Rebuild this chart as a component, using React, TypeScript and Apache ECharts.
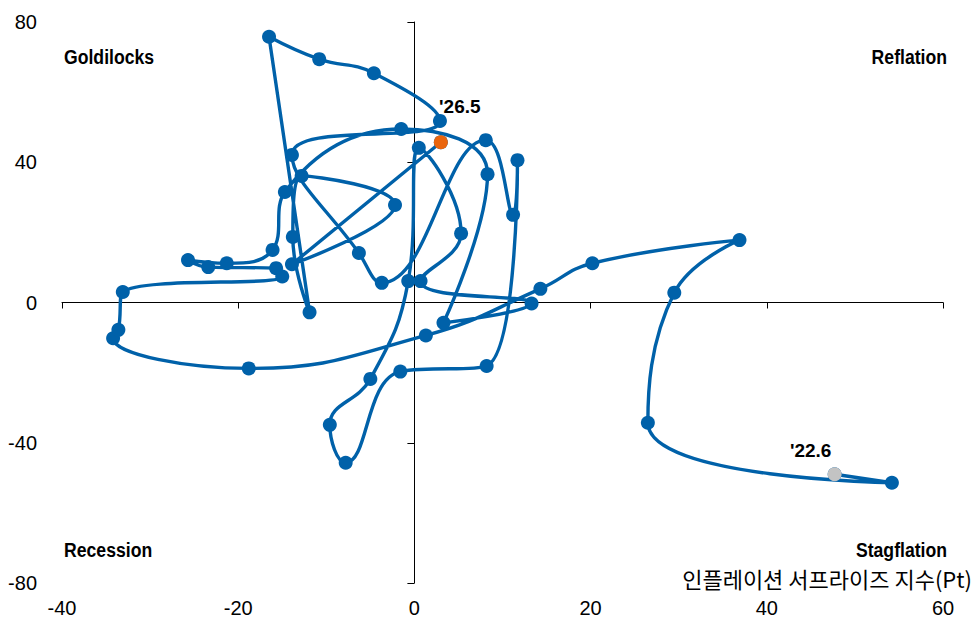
import React, { useEffect, useRef } from 'react';
import * as echarts from 'echarts';

// Inflation surprise index (x) and growth surprise index (y), monthly '22.6 -> '26.5
const inflation = [47.7, 54.2, 26.5, 29.5, 36.9, 20.2, 14.3, 1.3, -18.8, -34.2, -33.6, -33.1, -15.0, -15.7, -23.4, -25.7, -21.3, -16.1, -14.7, -1.5, 8.3, 3.3, 13.3, 0.7, 5.3, 0.5, -0.7, -5.0, -9.6, -7.8, -1.6, 8.2, 11.7, 11.2, 8.1, -3.7, -6.3, -13.9, 2.9, -4.6, -10.8, -16.5, -11.9, -13.8, -12.8, -2.2, -13.9, 3.0];
const growth = [-49.0, -51.4, -34.3, 2.8, 17.8, 11.2, 3.9, -9.4, -18.8, -10.2, -7.8, 3.0, 7.4, 9.8, 10.1, 12.1, 11.2, 15.0, 31.5, 49.5, 36.6, -5.8, -0.3, 6.1, 19.7, 44.1, 6.1, -21.8, -34.9, -45.7, -19.7, -18.1, 40.6, 25.0, 46.3, 5.6, 14.1, 42.1, 51.8, 65.4, 69.4, 75.8, -2.8, 18.7, 36.1, 27.8, 10.9, 45.7];
const startLabel = "'22.6";
const endLabel = "'26.5";
const xTicks = { min: -40, max: 60, interval: 20 };
const yTicks = { min: -80, max: 80, interval: 40 };
const quadrants = ['Goldilocks', 'Reflation', 'Recession', 'Stagflation'];
const xAxisTitle = '인플레이션 서프라이즈 지수(Pt)';

const BLUE = '#0061A9';
const NARROW = "'Liberation Sans Narrow', 'Arial Narrow', 'Liberation Sans', Arial, sans-serif";

export default function App() {
  const ref = useRef<HTMLDivElement>(null);
  useEffect(() => {
    if (!ref.current) return;
    const chart = echarts.init(ref.current, undefined, { renderer: 'svg' });
    const pts = inflation.map((x, i) => [x, growth[i]]);
    const last = pts.length - 1;
    const labelFont = { fontFamily: NARROW, fontSize: 20, color: '#000' };
    const quadStyle = (text: string, x: number, y: number, align: string) => ({
      type: 'text', x, y, scaleX: 0.84, silent: true,
      style: { text, fontFamily: NARROW, fontSize: 21, fontWeight: 'bold', fill: '#000', align, verticalAlign: 'middle' },
    });
    const pointLabel = (text: string, offset: number[]) => ({
      show: true, position: 'inside', offset, formatter: text,
      fontFamily: NARROW, fontSize: 19, fontWeight: 'bold', color: '#000',
      textBorderWidth: 0, textBorderColor: 'transparent',
    });
    chart.setOption({
      animation: false,
      backgroundColor: '#fff',
      grid: { left: 62, right: 32, top: 22, bottom: 38, containLabel: false },
      xAxis: [
        {
          type: 'value', ...xTicks, position: 'bottom',
          axisLine: { show: true, onZero: true, onZeroAxisIndex: 0, lineStyle: { color: '#000', width: 1 } },
          axisTick: { show: true, length: 6, lineStyle: { color: '#000' } },
          axisLabel: { show: false }, splitLine: { show: false },
        },
        {
          type: 'value', ...xTicks, position: 'bottom',
          axisLine: { show: false, onZero: false }, axisTick: { show: false },
          axisLabel: { show: true, margin: 15, ...labelFont }, splitLine: { show: false },
        },
      ],
      yAxis: [
        {
          type: 'value', ...yTicks, position: 'left',
          axisLine: { show: false, onZero: false }, axisTick: { show: false },
          axisLabel: { show: true, margin: 25, ...labelFont }, splitLine: { show: false },
        },
        {
          type: 'value', ...yTicks, position: 'left',
          axisLine: { show: true, onZero: true, onZeroAxisIndex: 0, lineStyle: { color: '#000', width: 1 } },
          axisTick: { show: true, length: 7, lineStyle: { color: '#000' } },
          axisLabel: { show: false }, splitLine: { show: false },
        },
      ],
      series: [
        {
          type: 'line', xAxisIndex: 0, yAxisIndex: 0, data: pts, smooth: 0.45,
          symbol: 'circle', symbolSize: 14, showSymbol: true,
          lineStyle: { color: BLUE, width: 3.4 }, itemStyle: { color: BLUE }, z: 3,
        },
        {
          type: 'scatter', xAxisIndex: 0, yAxisIndex: 0, symbolSize: 14, z: 5,
          itemStyle: { opacity: 1 },
          data: [
            { value: pts[0], itemStyle: { color: '#C3C3C3', opacity: 1 }, label: pointLabel(startLabel, [-24, -24]) },
            { value: pts[last], itemStyle: { color: '#EA650D', opacity: 1 }, label: pointLabel(endLabel, [19, -36]) },
          ],
        },
      ],
      graphic: [
        quadStyle(quadrants[0], 64, 56, 'left'),
        quadStyle(quadrants[1], 947, 56, 'right'),
        quadStyle(quadrants[2], 64, 549, 'left'),
        quadStyle(quadrants[3], 947, 549, 'right'),
        {
          type: 'text', x: 972, y: 578, silent: true,
          style: { text: xAxisTitle, fontFamily: "'Noto Sans CJK KR', sans-serif", fontSize: 22, fill: '#000', align: 'right', verticalAlign: 'middle' },
        },
      ],
    });
    return () => chart.dispose();
  }, []);
  return <div ref={ref} style={{ position: 'absolute', left: 0, top: 0, width: 975, height: 621 }} />;
}
